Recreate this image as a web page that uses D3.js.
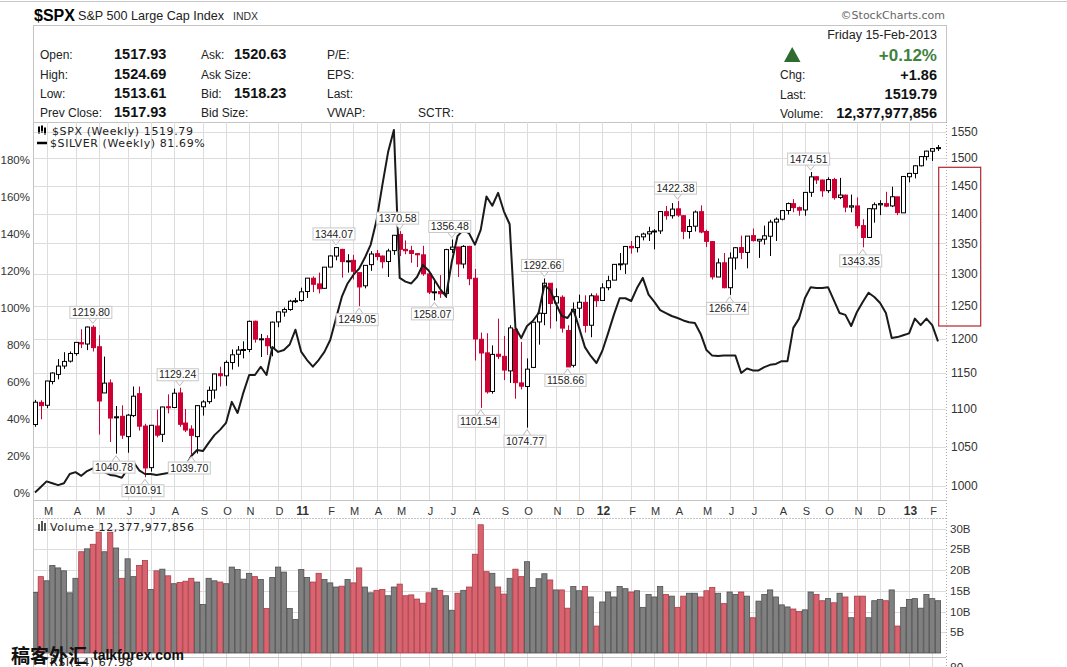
<!DOCTYPE html>
<meta charset="utf-8">
<style>
body { margin: 0; background: #fff; }
svg { display: block; font-family: "Liberation Sans", Arial, sans-serif; }
.grid line { stroke: #dcdcdc; stroke-width: 1px; shape-rendering: crispEdges; }
.frame { fill: none; stroke: #c4c4c4; shape-rendering: crispEdges; }
.lbl { font-size: 12px; fill: #222; }
.val { font-size: 14.5px; font-weight: bold; fill: #111; }
.leg { font-family: "DejaVu Sans", Verdana, sans-serif; font-size: 11px; letter-spacing: 0.6px; fill: #222; }
.axr { font-size: 12px; fill: #333; }
.mon { font-size: 11px; fill: #333; }
.peak { font-size: 10.5px; fill: #222; }
</style>
<body>
<script src="https://d3js.org/d3.v7.min.js"></script>
<script>

// weekly bars, Feb 2010 - Feb 2013 (week ending Friday)
var weeks = d3.timeFriday.range(new Date(2010, 1, 19), new Date(2013, 1, 16));

var open = [1079,1109,1105,1138,1148,1160,1167,1178,1194,1192,
 1217,1188,1122,1136,1088,1090,1063,1091,1121,1077,
 1023,1077,1066,1103,1102,1122,1081,1073,1063,1103,
 1110,1126,1149,1146,1165,1177,1184,1184,1226,1199,
 1200,1186,1225,1240,1244,1257,1258,1272,1293,1284,
 1277,1311,1329,1340,1320,1322,1302,1281,1315,1333,
 1329,1320,1338,1365,1340,1338,1333,1331,1300,1271,
 1272,1269,1340,1344,1316,1345,1293,1199,1179,1124,
 1177,1174,1153,1214,1136,1131,1158,1225,1238,1285,
 1254,1263,1212,1161,1246,1255,1220,1265,1258,1278,
 1290,1315,1316,1345,1343,1361,1366,1370,1371,1404,
 1397,1409,1397,1370,1379,1404,1370,1353,1295,1318,
 1278,1326,1343,1335,1363,1354,1357,1362,1386,1391,
 1406,1418,1411,1407,1438,1466,1460,1441,1461,1429,
 1433,1412,1414,1380,1360,1409,1416,1418,1414,1430,
 1402,1466,1472,1486,1503,1513,1517.9];

var high = [1112.4,1112,1139,1151,1170,1180,1181,1195,1214,1218,
 1219.8,1205,1173.6,1141,1104,1105,1093,1131,1131,1080,
 1078,1099,1103,1120,1128,1129.2,1100,1078,1105,1112,
 1131,1149,1159,1168,1184,1189,1196,1227,1227,1207,
 1205,1225.6,1240.5,1247,1259,1262,1278,1293.2,1296,1302,
 1311,1330,1344.1,1341,1332,1331,1302,1314,1337,1339,
 1330,1341,1364,1370.6,1355,1346,1334,1346,1302,1292,
 1298,1341,1356.5,1344,1347,1346,1308,1209,1208,1190,
 1230,1204,1220,1220,1195,1171,1224.6,1239,1292.7,1285,
 1277,1266,1220,1255,1267,1266,1269,1269,1285,1297,
 1316,1334,1345,1354,1363,1368,1378,1374,1405,1414,
 1419,1422.4,1398,1391,1406,1415,1373,1354,1325,1334,
 1335,1344,1363,1362,1375,1357,1380,1390,1394,1406,
 1420,1426,1413,1438,1474.5,1467,1461,1465,1464,1464,
 1434,1434,1429,1391,1410,1420,1424,1439,1448,1430,
 1467,1473,1487,1504,1514,1518,1524.7];

var low = [1076,1086,1101,1134,1141,1156,1165,1175,1186,1183,
 1181,1065.8,1122,1056,1040.8,1060,1042,1089,1071,1010.9,
 1018,1062,1056,1094,1101,1076,1069,1039.7,1041,1091,
 1107,1114,1131,1132,1155,1159,1171,1180,1194,1173,
 1176,1174,1217,1233,1242,1254,1256,1262,1271,1269,
 1276,1311,1322,1294,1302,1291,1249.1,1277,1305,1322,
 1309,1295,1331,1329,1332,1318,1311,1297,1268,1258.1,
 1262,1262,1334,1295,1309,1282,1168,1101.5,1121,1121,
 1170,1140,1136,1114,1127,1074.8,1157,1191,1220,1215,
 1226,1209,1158.7,1158,1231,1209,1202,1248,1258,1274,
 1290,1306,1300,1333,1335,1355,1354,1340,1366,1390,
 1392,1395,1357,1358,1370,1367,1344,1291,1295,1277,
 1266.7,1307,1324,1309,1353,1326,1348,1329,1354,1389,
 1399,1403,1397,1397,1430,1453,1430,1437,1425,1426,
 1403,1403,1375,1343.4,1360,1385,1398,1412,1412,1398,
 1402,1456,1463,1485,1496,1495,1513.6];

var close = [1109.2,1104.5,1138.7,1150.0,1159.9,1166.6,1178.1,1194.4,1192.1,1217.3,
 1186.7,1110.9,1135.7,1087.7,1089.4,1064.9,1091.6,1117.5,1076.8,1022.6,
 1078.0,1064.9,1102.7,1101.6,1121.6,1079.3,1071.7,1064.6,1104.5,1109.6,
 1125.6,1148.7,1146.2,1165.2,1176.2,1183.1,1183.3,1225.9,1199.2,1199.7,
 1189.4,1224.7,1240.4,1243.9,1256.8,1257.6,1271.5,1293.2,1283.4,1276.3,
 1310.9,1329.2,1343.0,1319.9,1321.2,1304.3,1279.2,1313.8,1332.4,1328.2,
 1319.7,1337.4,1363.6,1340.2,1337.8,1333.3,1331.1,1300.2,1271.0,1271.5,
 1268.5,1339.7,1343.8,1316.1,1345.0,1292.3,1199.4,1178.8,1123.5,1176.8,
 1174.0,1154.2,1216.0,1136.4,1131.4,1155.5,1224.6,1238.3,1285.1,1253.2,
 1263.9,1215.7,1158.7,1244.3,1255.2,1219.7,1265.3,1257.6,1277.8,1289.1,
 1315.4,1316.3,1344.9,1342.6,1361.2,1365.7,1369.6,1370.9,1404.2,1397.1,
 1408.5,1398.1,1370.3,1378.5,1403.4,1369.1,1353.4,1295.2,1317.8,1278.0,
 1325.7,1342.8,1335.0,1362.2,1354.7,1356.8,1362.7,1386.0,1391.0,1405.9,
 1418.2,1411.1,1406.6,1437.9,1465.8,1460.2,1440.7,1460.9,1428.6,1433.2,
 1411.9,1414.2,1379.9,1359.9,1409.2,1416.2,1418.1,1413.6,1430.2,1402.4,
 1466.5,1472.1,1486.0,1503.0,1513.2,1517.9,1519.8];

// $SILVER, % change since first week
var silverPct = [0,3,6,5,4,5,10,11,9,11.6,
 13,15,11,9.5,9,8,12.7,16.5,12,10,
 10,9.5,10,10.5,11,12,14,19.7,23,22.4,
 26.8,31,34,37.6,49,43,54,63.5,63.5,68,
 63.5,78.6,76,77,80,88,76,71.6,68,71.6,
 76,82.4,94,105.7,113,117.6,121,127,134,147,
 166,184,196,116,114,113,116.5,123,120,115,
 110,106,124.6,138.6,142,140,134,142,160,155,
 162,152,145,89,83.5,90,92.7,97,112,109.5,
 102,95.4,94.3,99,89,78.6,73.8,70,76.5,86,
 96,105,105,103.5,110.5,116,107,103,98.6,97,
 95.4,94.3,93,92,91.6,85.7,77,74,73.8,74,
 74,74,64.6,67,66,66,67.8,69,69.5,71,
 71,89,94,105,111,110.5,110.5,111,104,97,
 96,90,97.6,103,108,105.7,102.4,97,83.5,84,
 85,86,94,90.5,94,90.5,81.69];

// weekly volume, billions of shares
var volume = [14.6,18.4,17.4,21.1,20.5,19.8,14.5,18.0,24.4,25.1,
 26.2,29.1,24.4,29.1,25.3,18.0,22.7,18.4,21.1,22.3,
 15.3,19.8,20.2,18.6,16.7,17.0,17.3,18.0,17.1,11.7,
 18.0,17.4,17.1,16.7,20.7,20.1,17.8,19.2,18.4,17.7,
 10.7,18.2,20.7,19.5,10.7,8.1,20.1,18.2,17.1,19.2,
 17.7,16.9,15.9,16.1,17.7,16.9,20.5,15.9,14.5,15.1,
 15.3,13.8,15.9,16.6,13.8,14.0,13.0,12.0,14.5,15.6,
 15.1,13.8,10.3,14.4,15.1,15.9,23.8,30.9,19.6,19.2,
 15.9,14.2,18.0,20.2,18.4,22.0,15.8,17.9,19.1,17.6,
 15.2,15.2,10.8,16.0,15.0,16.0,13.5,6.5,12.3,14.7,
 13.5,16.0,15.5,14.7,15.0,11.0,14.1,13.5,16.0,14.1,
 13.7,11.0,13.7,14.4,14.4,13.5,15.0,15.8,14.4,11.9,
 14.7,14.1,14.7,13.7,8.5,12.5,14.1,15.2,13.5,11.6,
 11.1,10.6,10.0,10.4,14.7,14.1,12.6,13.1,12.1,14.4,
 13.5,8.5,13.7,13.7,8.5,12.6,12.9,12.6,15.2,6.5,
 11.0,12.9,13.1,10.8,14.1,13.1,12.6];

// labelled swing highs / lows: [week index, text, side]
var peaks = [[10,"1219.80","h"],[14,"1040.78","l"],[19,"1010.91","l"],[25,"1129.24","h"],[27,"1039.70","l"],
 [52,"1344.07","h"],[56,"1249.05","l"],[63,"1370.58","h"],[69,"1258.07","l"],[72,"1356.48","h"],
 [77,"1101.54","l"],[85,"1074.77","l"],[88,"1292.66","h"],[92,"1158.66","l"],[111,"1422.38","h"],
 [120,"1266.74","l"],[134,"1474.51","h"],[143,"1343.35","l"]];

var priceTicks = [1000,1050,1100,1150,1200,1250,1300,1350,1400,1450,1500,1550];
var pctTicks = [0,20,40,60,80,100,120,140,160,180];
var volTicks = [5,10,15,20,25,30];
var monthLetters = ["J","F","M","A","M","J","J","A","S","O","N","D"];

// layout
var L = 33, R = 946, pTop = 122, pBot = 500, vTop = 518, vBot = 657;
var svg = d3.select("body").append("svg").attr("width", 1067).attr("height", 667);

var x = d3.scaleTime()
    .domain([d3.timeMonday.floor(weeks[0]), d3.timeMonday.floor(weeks[weeks.length - 1])])
    .range([35, 938]);
function bx(i) { return x(d3.timeMonday.floor(weeks[i])); }
var y = d3.scaleLog().domain([1000, 1550]).range([486, 131.7]);
var yp = d3.scaleLinear().domain([0, 180]).range([492.5, 159.5]);
var yv = d3.scaleLinear().domain([0, 30]).range([653, 528.5]);

// top rule and title
svg.append("line").attr("x1", 0).attr("x2", 1067).attr("y1", 1.5).attr("y2", 1.5).attr("stroke", "#c8c8c8");
svg.append("text").attr("x", 34).attr("y", 21).style("font-size", "16px").style("font-weight", "bold").text("$SPX");
svg.append("text").attr("x", 78).attr("y", 20).style("font-size", "12.6px").attr("fill", "#222").text("S&P 500 Large Cap Index");
svg.append("text").attr("x", 233).attr("y", 20).style("font-size", "10.5px").attr("fill", "#333").text("INDX");
svg.append("text").attr("x", 945).attr("y", 19).attr("text-anchor", "end")
    .style("font-family", "'DejaVu Sans', Verdana").style("font-size", "11px").attr("fill", "#666")
    .text("\u00a9StockCharts.com");

// header box
svg.append("rect").attr("class", "frame").attr("x", L + 0.5).attr("y", 25.5).attr("width", R - L).attr("height", pTop - 25.5);
var rows = [58.5, 78.5, 97.5, 116.5];
[["Open:", "1517.93"], ["High:", "1524.69"], ["Low:", "1513.61"], ["Prev Close:", "1517.93"]].forEach(function(r, k) {
  svg.append("text").attr("class", "lbl").attr("x", 40).attr("y", rows[k]).text(r[0]);
  svg.append("text").attr("class", "val").attr("x", 114).attr("y", rows[k] + 0.5).text(r[1]);
});
[["Ask:", "1520.63"], ["Ask Size:", ""], ["Bid:", "1518.23"], ["Bid Size:", ""]].forEach(function(r, k) {
  svg.append("text").attr("class", "lbl").attr("x", 201).attr("y", rows[k]).text(r[0]);
  svg.append("text").attr("class", "val").attr("x", 234).attr("y", rows[k] + 0.5).text(r[1]);
});
["P/E:", "EPS:", "Last:", "VWAP:"].forEach(function(t, k) {
  svg.append("text").attr("class", "lbl").attr("x", 327).attr("y", rows[k]).text(t);
});
svg.append("text").attr("class", "lbl").attr("x", 418).attr("y", rows[3]).text("SCTR:");

svg.append("text").attr("class", "lbl").attr("x", 937).attr("y", 38.5).attr("text-anchor", "end")
    .style("font-size", "12.5px").text("Friday  15-Feb-2013");
svg.append("path").attr("d", "M784,62L800.5,62L792.2,47Z").attr("fill", "#2e6b2e");
svg.append("text").attr("x", 937).attr("y", 61).attr("text-anchor", "end")
    .style("font-size", "17px").style("font-weight", "bold").attr("fill", "#3f813f").text("+0.12%");
[["Chg:", "+1.86", 79], ["Last:", "1519.79", 98.5], ["Volume:", "12,377,977,856", 117.5]].forEach(function(r) {
  svg.append("text").attr("class", "lbl").attr("x", 780).attr("y", r[2]).text(r[0]);
  svg.append("text").attr("class", "val").attr("x", 937).attr("y", r[2] + 0.5).attr("text-anchor", "end").text(r[1]);
});

// clip paths
var defs = svg.append("defs");
defs.append("clipPath").attr("id", "cp").append("rect").attr("x", L).attr("y", pTop).attr("width", R - L).attr("height", pBot - pTop);
defs.append("clipPath").attr("id", "cv").append("rect").attr("x", L).attr("y", vTop).attr("width", R - L).attr("height", vBot - vTop);

// gridlines
var monthStarts = d3.timeMonth.range(new Date(2010, 2, 1), new Date(2013, 2, 1));
var gx = monthStarts.map(function(m) { return Math.round(x(d3.timeMonday.ceil(m))) + 0.5; });
var grid = svg.append("g").attr("class", "grid");
gx.forEach(function(v) {
  grid.append("line").attr("x1", v).attr("x2", v).attr("y1", pTop).attr("y2", pBot);
  grid.append("line").attr("x1", v).attr("x2", v).attr("y1", vTop).attr("y2", 667);
});
priceTicks.forEach(function(t) {
  var v = Math.round(y(t)) + 0.5;
  grid.append("line").attr("x1", L).attr("x2", R).attr("y1", v).attr("y2", v);
});
volTicks.forEach(function(t) {
  var v = Math.round(yv(t)) + 0.5;
  grid.append("line").attr("x1", L).attr("x2", R).attr("y1", v).attr("y2", v);
});

// panel frames
svg.append("line").attr("class", "frame").attr("x1", L + 0.5).attr("x2", L + 0.5).attr("y1", pTop).attr("y2", 667);
svg.append("line").attr("class", "frame").attr("x1", L).attr("x2", R).attr("y1", pBot + 0.5).attr("y2", pBot + 0.5);
svg.append("line").attr("class", "frame").attr("x1", L).attr("x2", R).attr("y1", vTop + 0.5).attr("y2", vTop + 0.5)
    .attr("stroke-dasharray", "2,1");
svg.append("line").attr("class", "frame").attr("x1", L).attr("x2", R).attr("y1", vBot + 0.5).attr("y2", vBot + 0.5);
svg.append("line").attr("x1", R + 0.5).attr("x2", R + 0.5).attr("y1", pTop).attr("y2", 667)
    .attr("stroke", "#aaa").attr("stroke-dasharray", "1,2");

// axis labels
priceTicks.forEach(function(t) {
  svg.append("text").attr("class", "axr").attr("x", 951).attr("y", y(t)).attr("dy", "0.35em").text(t);
});
pctTicks.forEach(function(t) {
  svg.append("text").attr("class", "axr").attr("x", 30).attr("y", yp(t)).attr("dy", "0.35em")
      .attr("text-anchor", "end").style("font-size", "11.5px").text(t + "%");
});
volTicks.forEach(function(t) {
  svg.append("text").attr("class", "axr").attr("x", 950).attr("y", yv(t)).attr("dy", "0.35em").style("font-size", "11.5px").text(t + "B");
});
monthStarts.forEach(function(m, k) {
  var jan = m.getMonth() === 0;
  svg.append("text").attr("class", "mon").attr("x", gx[k] + 1).attr("y", 514.5).attr("text-anchor", "middle")
      .style("font-weight", jan ? "bold" : "normal").style("font-size", jan ? "12px" : "11px")
      .text(jan ? d3.timeFormat("%y")(m) : monthLetters[m.getMonth()]);
});

// candles
function up(i) { return i === 0 ? close[i] >= open[i] : close[i] >= close[i - 1]; }
var pg = svg.append("g").attr("clip-path", "url(#cp)");
weeks.forEach(function(w, i) {
  var cx = Math.round(bx(i)) + 0.5;
  var col = up(i) ? "#000" : "#cc0033";
  pg.append("line").attr("x1", cx).attr("x2", cx).attr("y1", y(high[i])).attr("y2", y(low[i]))
      .attr("stroke", col).attr("stroke-width", 1);
  var top = y(Math.max(open[i], close[i])), bot = y(Math.min(open[i], close[i]));
  var hollow = close[i] > open[i];
  pg.append("rect").attr("x", cx - 2).attr("y", top).attr("width", 4).attr("height", Math.max(1, bot - top))
      .attr("fill", hollow ? "#fff" : col).attr("stroke", col).attr("stroke-width", 1);
});

// silver line
pg.append("path").datum(silverPct)
    .attr("fill", "none").attr("stroke", "#1a1a1a").attr("stroke-width", 2).attr("stroke-linejoin", "round")
    .attr("d", d3.line().x(function(d, i) { return bx(i); }).y(function(d) { return yp(d); }));

// peak labels
peaks.forEach(function(p) {
  var i = p[0], isHigh = p[2] === "h";
  var px = bx(i), py = isHigh ? y(high[i]) : y(low[i]);
  var cx = px - 2, cy = isHigh ? py - 13 : py + 13.5;
  var g = svg.append("g");
  var t = g.append("text").attr("class", "peak").attr("x", cx).attr("y", cy).attr("dy", "0.35em")
      .attr("text-anchor", "middle").text(p[1]);
  var w = t.node().getComputedTextLength() + 4;
  var edge = isHigh ? cy + 6 : cy - 6;
  g.insert("path", "text").attr("d", "M" + (px - 4) + "," + edge + "L" + px + "," + (isHigh ? py - 2 : py + 2) + "L" + (px + 4) + "," + edge)
      .attr("fill", "#fff").attr("stroke", "#bbb");
  g.insert("rect", "text").attr("x", cx - w / 2).attr("y", cy - 6).attr("width", w).attr("height", 12)
      .attr("fill", "#fff").attr("stroke", "#c8c8c8");
});

// legends
var lg = svg.append("g");
[[38, 127, 132], [41, 126, 131], [44, 128, 133]].forEach(function(c) {
  lg.append("line").attr("x1", c[0] + 1).attr("x2", c[0] + 1).attr("y1", c[1] - 1).attr("y2", c[2] + 2).attr("stroke", "#000");
  lg.append("rect").attr("x", c[0]).attr("y", c[1]).attr("width", 2).attr("height", c[2] - c[1]).attr("fill", "#000");
});
lg.append("text").attr("class", "leg").attr("x", 52).attr("y", 135).text("$SPX (Weekly) 1519.79");
lg.append("line").attr("x1", 37).attr("x2", 47).attr("y1", 143).attr("y2", 143).attr("stroke", "#000").attr("stroke-width", 2.5);
lg.append("text").attr("class", "leg").attr("x", 50).attr("y", 147).text("$SILVER (Weekly) 81.69%");

// volume bars
var vg = svg.append("g").attr("clip-path", "url(#cv)");
volume.forEach(function(v, i) {
  var cx = bx(i), red = !up(i);
  vg.append("rect").attr("x", cx - 2.6).attr("y", yv(v)).attr("width", 5.2).attr("height", yv(0) - yv(v))
      .attr("fill", red ? "#d9646f" : "#808080").attr("stroke", red ? "#a83c47" : "#4f4f4f").attr("stroke-width", 0.8);
});
[[38, 524], [41, 521], [44, 523]].forEach(function(c) {
  svg.append("rect").attr("x", c[0]).attr("y", c[1]).attr("width", 2).attr("height", 531 - c[1]).attr("fill", "#555");
});
svg.append("text").attr("class", "leg").attr("x", 50).attr("y", 531).text("Volume 12,377,977,856");

// RSI panel (cut off at the bottom edge) and watermark over it
svg.append("text").attr("class", "leg").attr("x", 50).attr("y", 666).attr("fill", "#555").text("RSI(14) 67.98");
svg.append("text").attr("class", "axr").attr("x", 950).attr("y", 672).text("80");
svg.append("text").attr("x", 11).attr("y", 663).style("font-family", "'Noto Sans CJK SC'").style("font-weight", "bold")
    .style("font-size", "19px").attr("fill", "#111").text("稿客外汇");
svg.append("text").attr("x", 93).attr("y", 660).style("font-weight", "bold").style("font-size", "14px")
    .attr("fill", "#111").text("talkforex.com");

// hand-drawn annotation box near right axis
svg.append("rect").attr("x", 938.7).attr("y", 167.3).attr("width", 42).attr("height", 158.7)
    .attr("fill", "none").attr("stroke", "#b3262e").attr("stroke-width", 1.2);

</script>
</body>
